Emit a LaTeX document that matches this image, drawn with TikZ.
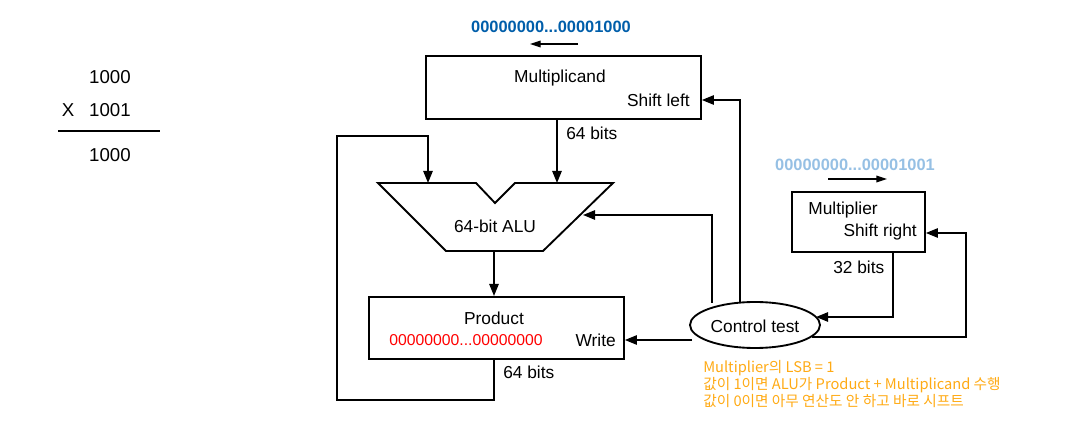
\documentclass[tikz,border=0pt]{standalone}
\usepackage{fontspec}
\setmainfont{Liberation Sans}
\newfontfamily\kr{Noto Sans CJK KR}
\usetikzlibrary{arrows.meta,shapes.geometric}
\definecolor{dblue}{RGB}{0,94,170}
\definecolor{lblue}{RGB}{150,192,228}
\definecolor{myor}{RGB}{255,170,20}
\begin{document}
\begin{tikzpicture}[x=0.75pt,y=-0.75pt,
  box/.style={draw,line width=1.4pt},
  wire/.style={line width=1.2pt,-{Triangle[length=9pt,width=7pt]}},
  lbl/.style={font=\fontsize{13}{15}\selectfont,inner sep=0pt},
  arr/.style={line width=1pt,-{Triangle[length=8pt,width=5pt]}}]
\useasboundingbox (0,0) rectangle (1065,427);
% left arithmetic
\node[lbl,font=\fontsize{14}{16}\selectfont,anchor=east] (a1) at (131,77) {1000};
\node[lbl,font=\fontsize{14}{16}\selectfont] (ax) at (68,110) {X};
\node[lbl,font=\fontsize{14}{16}\selectfont,anchor=east] (a2) at (131,110) {1001};
\draw[line width=1pt] (58,131) -- (160,131);
\node[lbl,font=\fontsize{14}{16}\selectfont,anchor=east] (a3) at (131,155) {1000};
% multiplicand
\node[box,minimum width=206.25pt,minimum height=47.25pt,anchor=north west,inner sep=0pt] (mc) at (425,55) {};
\node[lbl] (mct) at (560,78) {Multiplicand};
\node[lbl,anchor=east] (mcs) at (690,100) {Shift left};
\node[font=\bfseries\fontsize{12.3}{14}\selectfont,text=dblue,inner sep=0pt] (mcv) at (551,27) {00000000...00001000};
\coordinate (ml1) at (578,44); \coordinate (ml2) at (530,44);
\draw[arr] (ml1) -- (ml2);
% ALU
\coordinate (t1) at (378,183); \coordinate (t2) at (476,183); \coordinate (t3) at (495,203);
\coordinate (t4) at (515,183); \coordinate (t5) at (613,183); \coordinate (t6) at (543,251); \coordinate (t7) at (446,251);
\draw[line width=1.4pt,line join=miter] (t1)--(t2)--(t3)--(t4)--(t5)--(t6)--(t7)--cycle;
\node[lbl] (alu) at (495,226) {64-bit ALU};
\coordinate (aluin) at (557,183);
\draw[wire] (mc.south -| aluin) -- (aluin);
\node[lbl,anchor=west] (b1) at (566,133) {64 bits};
% product
\node[box,minimum width=191.25pt,minimum height=46.5pt,anchor=north west,inner sep=0pt] (pr) at (368,296) {};
\node[lbl] (prt) at (494,318) {Product};
\node[font=\fontsize{11.8}{14}\selectfont,text=red,inner sep=0pt] (prv) at (466,340) {00000000...00000000};
\node[lbl,anchor=east] (prw) at (616,340) {Write};
\coordinate (aluout) at (494,251);
\draw[wire] (aluout) -- (aluout |- pr.north);
\node[lbl,anchor=west] (b2) at (503,372) {64 bits};
% loop
\coordinate (l0) at (494,400); \coordinate (l1) at (337,400); \coordinate (l2) at (337,136); \coordinate (l3) at (428,136); \coordinate (l4) at (428,183);
\draw[wire] (pr.south -| l0) -- (l0) -- (l1) -- (l2) -- (l3) -- (l4);
% control
\node[draw,line width=1.4pt,ellipse,minimum width=97.5pt,minimum height=34.5pt,inner sep=0pt] (ct) at (755,325) {};
\node[lbl] (ctt) at (755,326) {Control test};
\coordinate (w0) at (692,340);
\draw[wire] (w0) -- (pr.east |- w0);
\coordinate (c1) at (712,303); \coordinate (c2) at (712,215); \coordinate (c3) at (583,215);
\draw[wire] (c1) -- (c2) -- (c3);
\coordinate (d1) at (740,302); \coordinate (d2) at (740,100);
\draw[wire] (d1) -- (d2) -- (mc.east |- d2);
% multiplier
\node[box,minimum width=99.75pt,minimum height=45pt,anchor=north west,inner sep=0pt] (mp) at (791,191) {};
\node[lbl] (mpt) at (843,210) {Multiplier};
\node[lbl,anchor=east] (mps) at (917,232) {Shift right};
\node[font=\bfseries\fontsize{12.3}{14}\selectfont,text=lblue,inner sep=0pt] (mpv) at (855,165) {00000000...00001001};
\coordinate (mr1) at (828,179); \coordinate (mr2) at (887,179);
\draw[arr] (mr1) -- (mr2);
\node[lbl,anchor=west] (b3) at (833,267) {32 bits};
\coordinate (e1) at (893,317);
\draw[wire] (mp.south -| e1) -- (e1) -- (816,317);
\coordinate (f1) at (812,337); \coordinate (f2) at (966,337); \coordinate (f3) at (966,233);
\draw[wire] (f1) -- (f2) -- (f3) -- (mp.east |- f3);
% notes
\node[font=\kr\fontsize{11}{12.8}\selectfont,text=myor,anchor=north west,align=left,inner sep=0pt] (note) at (703,360)
 {Multiplier의 LSB = 1\\값이 1이면 ALU가 Product + Multiplicand 수행\\값이 0이면 아무 연산도 안 하고 바로 시프트};
\end{tikzpicture}
\end{document}
